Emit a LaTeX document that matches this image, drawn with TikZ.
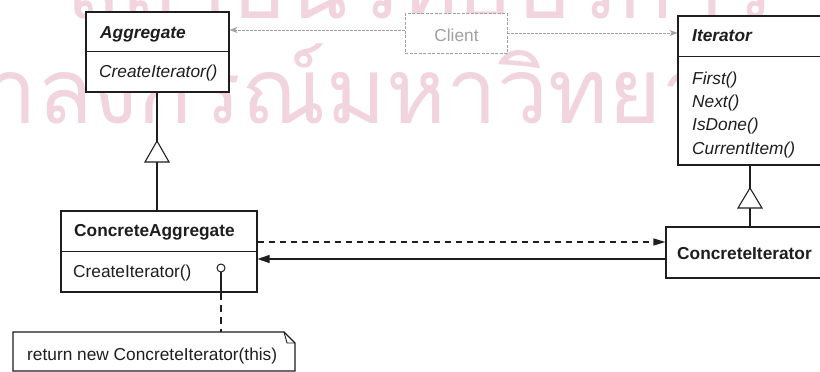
\documentclass[tikz,border=0pt]{standalone}
\usepackage{fontspec}
\setmainfont{Liberation Sans}
\newfontfamily\thaifont[Script=Thai]{Loma}
\usetikzlibrary{arrows.meta,calc}
\definecolor{ink}{HTML}{1E1E1E}
\definecolor{faint}{HTML}{A0A0A0}
\definecolor{wm}{HTML}{F1D4DD}
\tikzset{
  umlbox/.style={draw=ink, line width=1.1pt, rectangle, inner sep=0pt, fill=white},
  divider/.style={draw=ink, line width=1.1pt},
  lbl/.style={anchor=base west, inner sep=0pt, text=ink, font=\fontsize{17.3}{20}\selectfont},
  bold/.style={font=\fontsize{17.3}{20}\selectfont\bfseries},
  bolditalic/.style={font=\fontsize{17.3}{20}\selectfont\bfseries\itshape},
  ital/.style={font=\fontsize{17.3}{20}\selectfont\itshape},
  conn/.style={draw=ink, line width=1.1pt},
  faintconn/.style={draw=faint, line width=0.8pt, dash pattern=on 3pt off 1pt, -{Stealth[length=8pt,width=6pt]}},
  inherit/.style={draw=ink, line width=1.1pt, fill=white},
  wmtext/.style={inner sep=0pt, text=wm, font=\thaifont\fontsize{91}{93}\selectfont},
}
\begin{document}
\begin{tikzpicture}[x=1pt,y=-1pt]
\useasboundingbox (0,0) rectangle (820,372);
\clip (0,0) rectangle (820,372);
\fill[white] (0,0) rectangle (820,372);
% watermark
\node[wmtext, anchor=base] (wm1) at (420,19) {สถาบันวิทยบริการ};
\node[wmtext, anchor=base east] (wm2) at (822,123) {จุฬาลงกรณ์มหาวิทยาลัย};

% Aggregate
\node[umlbox, minimum width=143pt, minimum height=80pt] (agg) at (157.5,52) {};
\draw[divider] ($(agg.north west)+(0,40)$) -- ($(agg.north east)+(0,40)$);
\node[lbl, bolditalic] (aggT) at (100,38) {Aggregate};
\node[lbl, ital] (aggM) at (99,77.5) {CreateIterator()};

% Client
\node[draw=faint, line width=0.8pt, dash pattern=on 3pt off 1.5pt, minimum width=102pt, minimum height=40pt, inner sep=0pt, fill=white] (client) at (456,33.5) {};
\node[anchor=base, inner sep=0pt, text=faint, font=\fontsize{17.3}{20}\selectfont] (clientT) at (456.5,41) {Client};

% Iterator
\node[umlbox, minimum width=144pt, minimum height=149pt] (iter) at (750,90.5) {};
\draw[divider] ($(iter.north west)+(0,41)$) -- ($(iter.north east)+(0,41)$);
\node[lbl, bolditalic] (iterT) at (692,41.5) {Iterator};
\node[lbl, ital] (m1) at (692,84) {First()};
\node[lbl, ital] (m2) at (692,107) {Next()};
\node[lbl, ital] (m3) at (692,130) {IsDone()};
\node[lbl, ital] (m4) at (692,154) {CurrentItem()};

% ConcreteAggregate
\node[umlbox, minimum width=196pt, minimum height=81pt] (cagg) at (159,251.5) {};
\draw[divider] ($(cagg.north west)+(0,41)$) -- ($(cagg.north east)+(0,41)$);
\node[lbl, bold] (caggT) at (74,236.5) {ConcreteAggregate};
\node[lbl] (caggM) at (73,277.5) {CreateIterator()};

% ConcreteIterator
\node[umlbox, minimum width=168pt, minimum height=51pt] (citer) at (750,252.5) {};
\node[lbl, bold] (citerT) at (677,259) {ConcreteIterator};

% Note
\coordinate (nTL) at (13,332);
\coordinate (nFold) at (284,332);
\coordinate (nFoldB) at (295,343);
\coordinate (nBR) at (295,371);
\draw[ink, line width=1.1pt, fill=white] (nTL) -- (nFold) -- (nFoldB) -- (nBR) -- (13,371) -- cycle;
\draw[ink, line width=0.9pt] (nFold) -- (287,343) -- (nFoldB);
\node[lbl] (noteT) at (27,360) {return new ConcreteIterator(this)};

% Client links
\draw[faintconn] (client.west |- 0,30) -- (agg.east |- 0,30);
\draw[faintconn] (client.east |- 0,33) -- (iter.west |- 0,33);

% inheritance
\draw[conn] (agg.south -| 157,0) -- (cagg.north -| 157,0);
\draw[inherit] (157,141) -- (145,162) -- (169,162) -- cycle;
\draw[conn] (iter.south) -- (citer.north);
\draw[inherit] (750,188) -- (738,208) -- (762,208) -- cycle;

% associations
\draw[conn, dash pattern=on 6pt off 5pt, -{Triangle[length=12pt,width=7pt]}] (cagg.east |- 0,242) -- (citer.west |- 0,242);
\draw[conn, -{Triangle[length=12pt,width=8pt]}] (citer.west |- 0,259) -- (cagg.east |- 0,259);

% lollipop to note
\coordinate (lolC) at (221,268);
\draw[ink, line width=1pt] (lolC) circle (4pt);
\draw[ink, line width=1.1pt] ($(lolC)+(0,4)$) -- (cagg.south -| lolC);
\draw[ink, line width=1.1pt, dash pattern=on 7pt off 5pt] (cagg.south -| lolC) -- (nTL -| lolC);
\end{tikzpicture}
\end{document}
